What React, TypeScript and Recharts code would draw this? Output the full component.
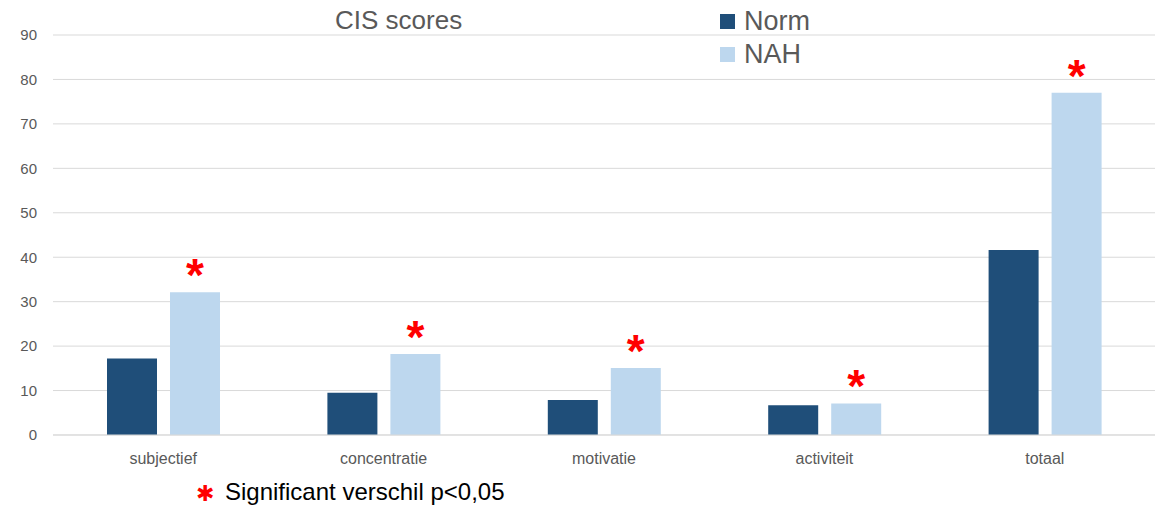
import { Bar, BarChart, CartesianGrid, LabelList, XAxis, YAxis } from 'recharts';

const categories = ['subjectief', 'concentratie', 'motivatie', 'activiteit', 'totaal'];
const normScores = [17.2, 9.5, 7.9, 6.7, 41.6];
const nahScores = [32.1, 18.2, 15.1, 7.1, 77.0];
const yTicks = [0, 10, 20, 30, 40, 50, 60, 70, 80, 90];

const NORM_COLOR = '#1F4E79';
const NAH_COLOR = '#BDD7EE';
const TEXT_GRAY = '#595959';
const FONT = '"Liberation Sans", Arial, sans-serif';

const data = categories.map((name, i) => ({
  name,
  norm: normScores[i],
  nah: nahScores[i],
}));

const Star = (props: any) => {
  const { x, y, width } = props;
  return (
    <text
      x={x + width / 2}
      y={y - 1}
      textAnchor="middle"
      fill="#FF0000"
      fontSize={46}
      fontWeight={700}
      fontFamily={FONT}
    >
      *
    </text>
  );
};

const App = () => {
  return (
    <div
      style={{
        position: 'absolute',
        left: 0,
        top: 0,
        width: 1162,
        height: 507,
        background: '#fff',
        fontFamily: FONT,
      }}
    >
      <BarChart
        width={1162}
        height={507}
        data={data}
        margin={{ top: 35, right: 7, bottom: 42, left: 8 }}
        barSize={50}
        barGap={13}
      >
        <CartesianGrid vertical={false} stroke="#D9D9D9" />
        <XAxis
          dataKey="name"
          height={30}
          axisLine={{ stroke: '#D9D9D9' }}
          tickLine={false}
          tickMargin={12}
          tick={{ fontSize: 16, fill: TEXT_GRAY, fontFamily: FONT }}
        />
        <YAxis
          width={45}
          domain={[0, 90]}
          ticks={yTicks}
          axisLine={false}
          tickLine={false}
          tickMargin={10}
          tick={{ fontSize: 15, fill: TEXT_GRAY, fontFamily: FONT }}
        />
        <Bar dataKey="norm" fill={NORM_COLOR} isAnimationActive={false} />
        <Bar dataKey="nah" fill={NAH_COLOR} isAnimationActive={false}>
          <LabelList dataKey="nah" content={<Star />} />
        </Bar>
      </BarChart>

      <div
        style={{
          position: 'absolute',
          left: 335,
          top: 5,
          fontSize: 26,
          color: TEXT_GRAY,
          lineHeight: '30px',
        }}
      >
        CIS scores
      </div>

      <div style={{ position: 'absolute', left: 720, top: 5, color: TEXT_GRAY }}>
        {[
          { label: 'Norm', color: NORM_COLOR },
          { label: 'NAH', color: NAH_COLOR },
        ].map((item) => (
          <div
            key={item.label}
            style={{ display: 'flex', alignItems: 'center', height: 33, fontSize: 27 }}
          >
            <span
              style={{
                display: 'inline-block',
                width: 15,
                height: 15,
                background: item.color,
                marginRight: 9,
              }}
            />
            {item.label}
          </div>
        ))}
      </div>

      <div
        style={{
          position: 'absolute',
          left: 196,
          top: 482,
          fontSize: 22,
          fontFamily: '"DejaVu Sans", sans-serif',
          color: '#FF0000',
          lineHeight: '24px',
        }}
      >
        ✱
      </div>
      <div
        style={{
          position: 'absolute',
          left: 225,
          top: 478,
          fontSize: 24,
          color: '#000',
          lineHeight: '28px',
          whiteSpace: 'nowrap',
        }}
      >
        Significant verschil p&lt;0,05
      </div>
    </div>
  );
};

export default App;
